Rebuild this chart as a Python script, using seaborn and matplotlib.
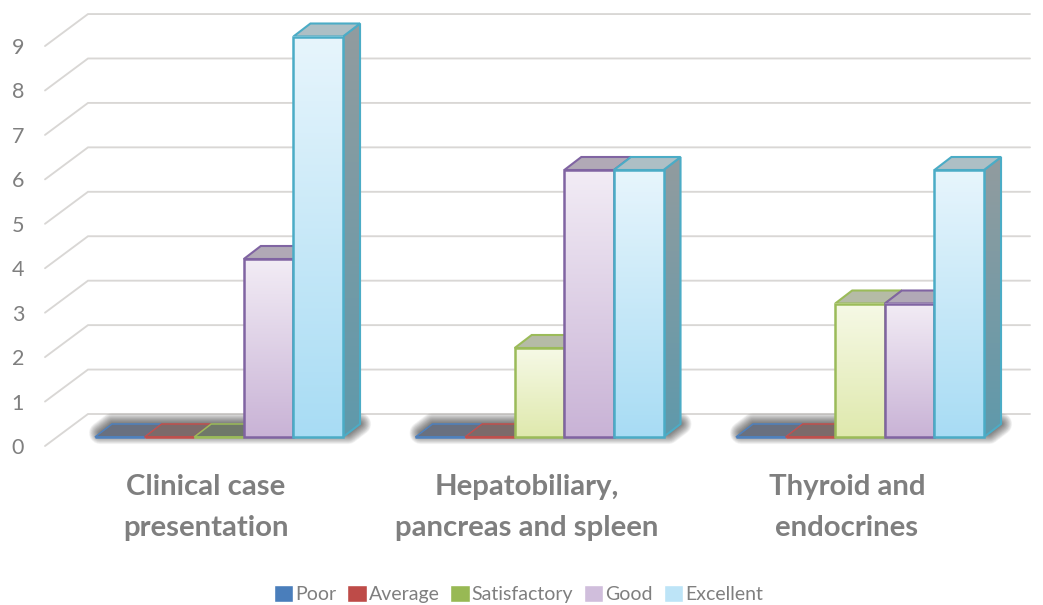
import numpy as np
import pandas as pd
import matplotlib
matplotlib.use("Agg")
import matplotlib.pyplot as plt
from matplotlib.colors import to_rgb, LinearSegmentedColormap
from matplotlib.patches import Polygon
from matplotlib.transforms import blended_transform_factory
import seaborn as sns

categories = ["Clinical case\npresentation", "Hepatobiliary,\npancreas and spleen", "Thyroid and\nendocrines"]
levels = ["Poor", "Average", "Satisfactory", "Good", "Excellent"]
poor = [0, 0, 0]
average = [0, 0, 0]
satisfactory = [0, 2, 3]
good = [4, 6, 3]
excellent = [9, 6, 6]
y_ticks = list(range(10))

legend_colors = ["#4a7ebb", "#be4b48", "#98b954", "#d0bedc", "#bde4f7"]
edge_colors = ["#4f81bd", "#c0504d", "#9bbb59", "#8064a2", "#4bacc6"]
grad_top = ["#dbe6f3", "#f3dcdc", "#f6f9e6", "#f2ecf5", "#e7f5fc"]
grad_bottom = ["#4f81bd", "#c0504d", "#dfe9ad", "#c9b3d6", "#a8dcf4"]
top_raised = ["#a0a8b4", "#b4a4a4", "#b5bba6", "#b1a9b6", "#adbfc5"]
top_flat = ["#69707f", "#7c6a6a", "#6f7869", "#6d6870", "#6a7078"]
side_top = ["#8a94a0", "#a08c8c", "#9aa090", "#94909a", "#929c9f"]
side_bottom = ["#5a78a0", "#a05a58", "#8aa060", "#8a78a0", "#5f99ab"]
GRID = "#d9d7d5"
TEXT = "#7f7f7f"

W, H = 1043, 605
FONT = "Lato"
sns.set_theme(style="white")
plt.rcParams["font.family"] = [FONT, "DejaVu Sans"]

df = pd.DataFrame({
    "category": categories * 5,
    "level": np.repeat(levels, 3),
    "value": poor + average + satisfactory + good + excellent,
})

fig = plt.figure(figsize=(W / 100, H / 100), dpi=100, facecolor="white")


def px_axes(left, right, top, bottom, **kw):
    return fig.add_axes([left / W, 1 - bottom / H, (right - left) / W, (bottom - top) / H], **kw)


PX_LEFT, PX_RIGHT = 45, 1030
CAT_STEP = 320.5
# back layer: floor + wall grid, tick labels
ax_grid = px_axes(PX_LEFT, PX_RIGHT, 14, 446)
ax_grid.set_xlim((PX_LEFT - 206) / CAT_STEP, (PX_RIGHT - 206) / CAT_STEP)
ax_grid.set_ylim(0, 432 / 44.44)
ax_grid.set_xticks(range(len(categories)))
ax_grid.set_xticklabels(categories, fontsize=21.2, fontweight="bold", color=TEXT, linespacing=1.68)
ax_grid.set_yticks(y_ticks)
ax_grid.set_yticklabels([str(v) for v in y_ticks], fontsize=15.5, color=TEXT)
ax_grid.tick_params(axis="x", length=0, pad=20.5)
ax_grid.tick_params(axis="y", length=0, pad=15)
sns.despine(ax=ax_grid, left=True, bottom=True, right=True, top=True)
trans = blended_transform_factory(ax_grid.transAxes, ax_grid.transData)
wall_dx = 43 / (PX_RIGHT - PX_LEFT)
wall_dy = 32 / 44.44
for v in y_ticks:
    ax_grid.plot([0, wall_dx, 1], [v, v + wall_dy, v + wall_dy], transform=trans,
                 color=GRID, lw=1.35, clip_on=False, solid_joinstyle="miter", zorder=1)

# front layer: bars
ax = px_axes(PX_LEFT, PX_RIGHT, 14, 437, zorder=2)
ax.patch.set_alpha(0)
sns.barplot(data=df, x="category", y="value", hue="level", hue_order=levels,
            palette=legend_colors, width=0.774, gap=0, dodge=True, saturation=1, ax=ax)
xlim = ((PX_LEFT - 219) / CAT_STEP, (PX_RIGHT - 219) / CAT_STEP)
ylim = (0, 423 / 44.5)
ax.set_xlim(xlim)
ax.set_ylim(ylim)
ax.set_xlabel("")
ax.set_ylabel("")
ax_grid.set_xlabel("")
ax.tick_params(left=False, bottom=False, labelleft=False, labelbottom=False)
sns.despine(ax=ax, left=True, bottom=True, right=True, top=True)

DEPTH_X, DEPTH_Y = 17, 13  # pixels
x_per_px = (xlim[1] - xlim[0]) / (PX_RIGHT - PX_LEFT)
y_per_px = (ylim[1] - ylim[0]) / 423
ddx, ddy = DEPTH_X * x_per_px, DEPTH_Y * y_per_px


def ramp(a, b):
    return LinearSegmentedColormap.from_list("r", [to_rgb(a), to_rgb(b)])(np.linspace(0, 1, 128))[:, None, :3]


# soft floor shadow under every cluster
shadow_rise = 4 * y_per_px
for c in range(len(categories)):
    first = ax.containers[0][c]
    last = ax.containers[-1][c]
    x0, x1 = first.get_x(), last.get_x() + last.get_width()
    foot = [(x0 + ddx * 0.3, shadow_rise), (x1 + ddx * 0.3, shadow_rise),
            (x1 + ddx, ddy), (x0 + ddx, ddy)]
    for lw in np.linspace(16, 0.5, 24):
        ax.add_patch(Polygon(foot, closed=True, facecolor="#2a2a2a", edgecolor="#2a2a2a",
                             lw=lw, alpha=0.035, joinstyle="round", zorder=1.2, clip_on=False))

for s, container in enumerate(ax.containers):
    for c, bar in enumerate(container):
        x0, w, h = bar.get_x(), bar.get_width(), bar.get_height()
        x1 = x0 + w
        z = 3 + s * 3 + c * 20
        edge = edge_colors[s]
        if h > 0:
            side = Polygon([(x1, 0), (x1 + ddx, ddy), (x1 + ddx, h + ddy), (x1, h)], closed=True,
                           facecolor="none", edgecolor=edge, lw=1.5, joinstyle="miter", zorder=z + 0.5)
            ax.add_patch(side)
            im = ax.imshow(ramp(side_top[s], side_bottom[s]), extent=(x1, x1 + ddx, 0, h + ddy),
                           aspect="auto", origin="upper", interpolation="bilinear", zorder=z)
            im.set_clip_path(side)
            ax.imshow(ramp(grad_top[s], grad_bottom[s]), extent=(x0, x1, 0, h),
                      aspect="auto", origin="upper", interpolation="bilinear", zorder=z + 2)
        top_color = top_raised[s] if h > 0 else top_flat[s]
        ax.add_patch(Polygon([(x0, h), (x1, h), (x1 + ddx, h + ddy), (x0 + ddx, h + ddy)], closed=True,
                             facecolor=top_color, edgecolor=edge, lw=1.5 if h > 0 else 1.1, joinstyle="miter",
                             zorder=z + 1, clip_on=False))
        bar.set_facecolor("none")
        bar.set_edgecolor(edge)
        bar.set_linewidth(1.8)
        bar.set_joinstyle("miter")
        bar.set_zorder(z + 3)
        bar.set_clip_on(False)

ax.set_xlim(xlim)
ax.set_ylim(ylim)

sns.move_legend(ax, "lower left", bbox_to_anchor=(270 / W, 1 - 607 / H), bbox_transform=fig.transFigure,
                ncol=5, frameon=False, title=None, fontsize=14, handlelength=1.0, handleheight=1.0,
                handletextpad=0.1, columnspacing=0.555, borderpad=0.2, borderaxespad=0,
                labelcolor=TEXT)

fig.savefig("out.png", dpi=100, facecolor="white")
